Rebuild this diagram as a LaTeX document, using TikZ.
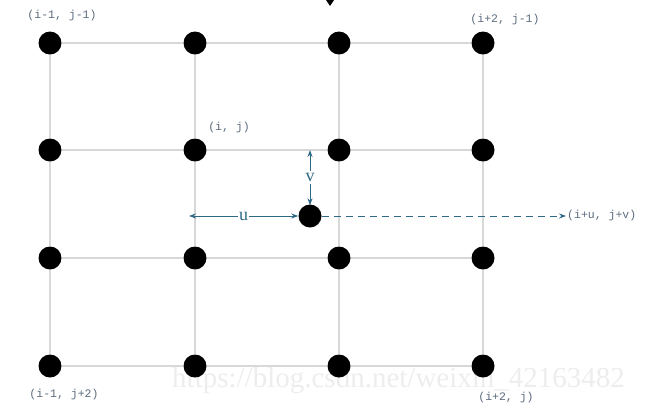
\documentclass[tikz,border=0pt]{standalone}
\usepackage{fontspec}
\setmainfont{Liberation Serif}
\setmonofont{Liberation Mono}
\usetikzlibrary{arrows.meta}
\definecolor{gridc}{HTML}{D6D8DA}
\definecolor{arrc}{HTML}{2E6A86}
\definecolor{labc}{HTML}{5C6B7E}
\begin{document}
\begin{tikzpicture}[x=1pt,y=-1pt,
  dot/.style={circle,fill=black,inner sep=0pt,minimum size=23pt},
  gline/.style={draw=gridc,line width=1.1pt},
  lab/.style={text=labc,font=\ttfamily\fontsize{11.5}{12}\selectfont,inner sep=1pt},
  arr/.style={draw=arrc,line width=0.9pt,-{Stealth[length=7pt,width=5pt]}},
  arr2/.style={draw=arrc,line width=0.9pt,{Stealth[length=7pt,width=5pt]}-{Stealth[length=7pt,width=5pt]}}]
\useasboundingbox (0,0) rectangle (659,408);
% watermark (behind everything)
\node[text=black!7,font=\fontsize{29}{30}\selectfont,inner sep=0pt,anchor=west] (wm) at (172,381) {https://blog.csdn.net/weixin\_42163482};
% grid dots
\foreach \c/\x in {1/50,2/195,3/339,4/483}{
  \foreach \r/\y in {1/43,2/150,3/258,4/366}{
    \node[dot] (d\c\r) at (\x,\y) {};
  }
}
% grid lines
\foreach \r in {1,2,3,4}{
  \draw[gline] (d1\r) -- (d2\r);
  \draw[gline] (d2\r) -- (d3\r);
  \draw[gline] (d3\r) -- (d4\r);
}
\foreach \c in {1,2,3,4}{
  \draw[gline] (d\c1) -- (d\c2);
  \draw[gline] (d\c2) -- (d\c3);
  \draw[gline] (d\c3) -- (d\c4);
}
% moving point
\node[dot] (p) at (310,216) {};
\coordinate (uL) at (189,216);
\coordinate (vT) at (310,150);
\coordinate (e) at (566,216);
\draw[arr2] (uL) -- (p.west) node[midway,fill=white,text=arrc,font=\fontsize{18}{18}\selectfont,inner sep=1pt] (ulab) {u};
\draw[arr2] (vT) -- ([yshift=-1pt]p.north) node[midway,fill=white,text=arrc,font=\fontsize{18}{18}\selectfont,inner sep=2pt] (vlab) {v};
\draw[arr,dash pattern=on 7pt off 5pt] (p.east) -- (e);
\node[lab,anchor=west] (pl) at (e) {(i+u, j+v)};
% labels
\node[lab] (l11) at (62,16) {(i-1, j-1)};
\node[lab] (l41) at (505,20) {(i+2, j-1)};
\node[lab] (l22) at (229,128) {(i, j)};
\node[lab] (l14) at (64,395) {(i-1, j+2)};
\node[lab] (l44) at (506,398) {(i+2, j)};
% cropped mark at top
\fill (326,0) -- (334,0) -- (330,6) -- cycle;
\end{tikzpicture}
\end{document}
